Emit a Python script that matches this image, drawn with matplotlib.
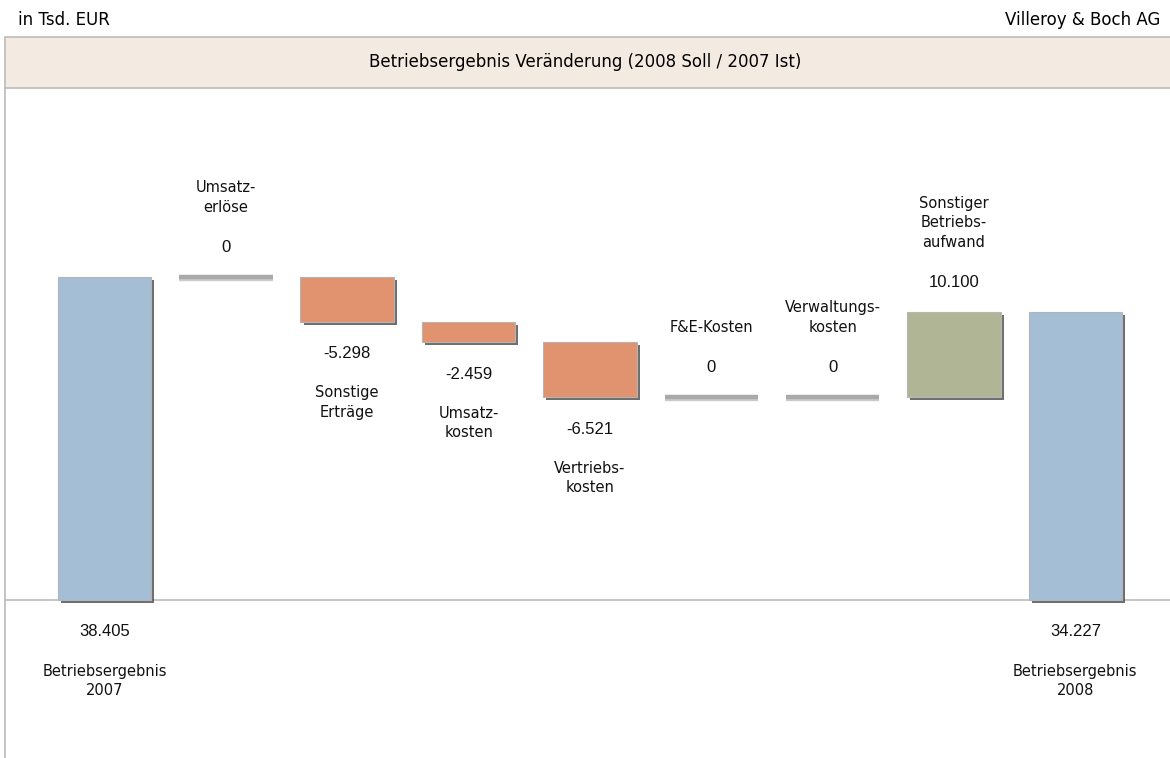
import numpy as np
import matplotlib
matplotlib.use("Agg")
import matplotlib.pyplot as plt
import matplotlib.patheffects as pe
from matplotlib.patches import Rectangle

# --- data (in Tsd. EUR) ---
names = ["Betriebsergebnis\n2007", "Umsatz-\nerlöse", "Sonstige\nErträge", "Umsatz-\nkosten",
         "Vertriebs-\nkosten", "F&E-Kosten", "Verwaltungs-\nkosten",
         "Sonstiger\nBetriebs-\naufwand", "Betriebsergebnis\n2008"]
values = [38405, 0, -5298, -2459, -6521, 0, 0, 10100, 34227]
labels = ["38.405", "0", "-5.298", "-2.459", "-6.521", "0", "0", "10.100", "34.227"]
is_total = [True, False, False, False, False, False, False, False, True]

BLUE, RED, GREEN, ZERO = "#a4bed6", "#e0936e", "#b0b595", "#a9a9a9"
W, H = 1170, 758

fig = plt.figure(figsize=(W / 100, H / 100), dpi=100)
ax = fig.add_axes([5 / W, 0, 1 - 5 / W, (H - 88) / H])

# --- waterfall geometry ---
x = np.arange(len(values))
bottoms, heights, colors = [], [], []
run = 0
for v, tot in zip(values, is_total):
    if tot:
        bottoms.append(0); heights.append(v); colors.append(BLUE); run = v
    else:
        bottoms.append(run if v >= 0 else run + v); heights.append(abs(v))
        colors.append(GREEN if v > 0 else RED); run += v
bottoms, heights = np.array(bottoms), np.array(heights)

shadow = [pe.SimplePatchShadow(offset=(2.2, -2.2), shadow_rgbFace="#555555", alpha=0.85), pe.Normal()]
bw = 0.77
for i in x:
    if heights[i] == 0:
        ax.hlines(bottoms[i], i - bw / 2, i + bw / 2, color=ZERO, lw=3.2, zorder=3,
                  path_effects=[pe.SimpleLineShadow(offset=(0, -1.2), shadow_color="#cccccc", alpha=1), pe.Normal()])
    else:
        ax.bar(i, heights[i], bw, bottom=bottoms[i], color=colors[i], edgecolor="#b5b5b5",
               linewidth=0.8, zorder=3, path_effects=shadow)

# --- labels ---
vfont = dict(family="Liberation Sans", size=12, color="#111111")
nfont = dict(family="DejaVu Sans", size=10.5, color="#111111", linespacing=1.35)
for i in x:
    v = values[i]
    top, bot = bottoms[i] + heights[i], bottoms[i]
    if is_total[i] or v < 0:
        ref = bot
        ax.annotate(labels[i], (i, ref), xytext=(0, -23), textcoords="offset points",
                    ha="center", va="center", **vfont)
        ax.annotate(names[i], (i, ref), xytext=(0, -46), textcoords="offset points",
                    ha="center", va="top", **nfont)
    else:
        ref = top
        ax.annotate(labels[i], (i, ref), xytext=(0, 21.5), textcoords="offset points",
                    ha="center", va="center", **vfont)
        ax.annotate(names[i], (i, ref), xytext=(0, 45), textcoords="offset points",
                    ha="center", va="bottom", **nfont)

ax.axhline(0, color="#bbbbbb", lw=1.2, zorder=2)
ax.set_xlim(-0.82, 8.78)
ax.set_ylim(-18790, 60880)
for s in ["top", "right", "bottom"]:
    ax.spines[s].set_visible(False)
ax.spines["left"].set_color("#bbbbbb")
ax.spines["left"].set_linewidth(1.2)
ax.set_xticks([]); ax.set_yticks([])

# --- header / title bar ---
fig.add_artist(Rectangle((5 / W, (H - 88) / H), 1, 51 / H, transform=fig.transFigure,
                         facecolor="#f3ebe1", edgecolor="#bbbbbb", lw=1.2))
fig.text(18 / W, 1 - 20 / H, "in Tsd. EUR", family="DejaVu Sans", size=12, va="center", ha="left")
fig.text(1160 / W, 1 - 20 / H, "Villeroy & Boch AG", family="DejaVu Sans", size=12, va="center", ha="right")
fig.text(585 / W, 1 - 62 / H, "Betriebsergebnis Veränderung (2008 Soll / 2007 Ist)",
         family="DejaVu Sans", size=12, va="center", ha="center")

fig.savefig("out.png", dpi=100)
